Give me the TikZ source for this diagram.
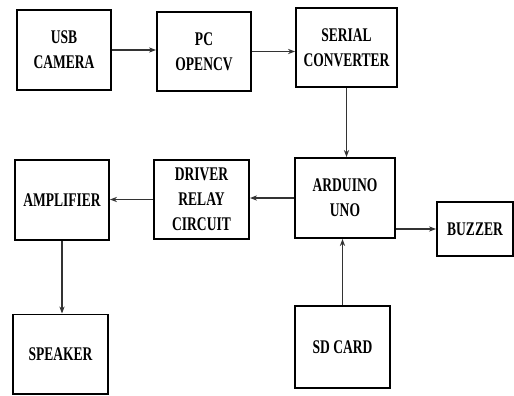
\documentclass[tikz,border=0pt]{standalone}
\usepackage{fontspec}
\setmainfont{Liberation Serif}[FakeStretch=0.7]
\usetikzlibrary{arrows.meta}
\begin{document}
\begin{tikzpicture}[x=0.03cm,y=-0.03cm,
  blk/.style={draw,line width=1.7pt,align=center,inner sep=0pt,
    font=\fontsize{16.5}{21.5}\selectfont\bfseries},
  arr/.style={-{Stealth[length=6pt,width=4.5pt]},line width=1.2pt,draw=black!80}]
\useasboundingbox (0,0) rectangle (514,395);

\node[blk,minimum width=2.82cm,minimum height=2.4cm] (usb) at (64,50) {USB\\CAMERA};
\node[blk,minimum width=2.82cm,minimum height=2.37cm] (pc) at (204,51.5) {PC\\OPENCV};
\node[blk,minimum width=3.03cm,minimum height=2.37cm] (serial) at (346.5,47.5) {SERIAL\\CONVERTER};
\node[blk,minimum width=3cm,minimum height=2.4cm] (uno) at (345,198) {ARDUINO\\UNO};
\node[blk,minimum width=2.85cm,minimum height=2.37cm] (relay) at (201.5,199.5) {DRIVER\\RELAY\\CIRCUIT};
\node[blk,minimum width=2.82cm,minimum height=2.4cm] (amp) at (62,200) {AMPLIFIER};
\node[blk,minimum width=2.28cm,minimum height=1.62cm] (buzzer) at (475,229) {BUZZER};
\node[blk,minimum width=2.85cm,minimum height=2.37cm] (speaker) at (60.5,354) {SPEAKER};
\node[blk,minimum width=2.85cm,minimum height=2.46cm] (sd) at (342.5,347) {SD CARD};

\draw[arr] (usb.east) -- (usb.east -| pc.west);
\draw[arr] (pc.east) -- (pc.east -| serial.west);
\draw[arr] (serial.south) -- (serial.south |- uno.north);
\draw[arr] (uno.west) -- (uno.west -| relay.east);
\draw[arr] (relay.west) -- (relay.west -| amp.east);
\draw[arr] (amp.south) -- (amp.south |- speaker.north);
\draw[arr] (sd.north) -- (sd.north |- uno.south);
\draw[arr] (uno.east |- buzzer.west) -- (buzzer.west);
\end{tikzpicture}
\end{document}
